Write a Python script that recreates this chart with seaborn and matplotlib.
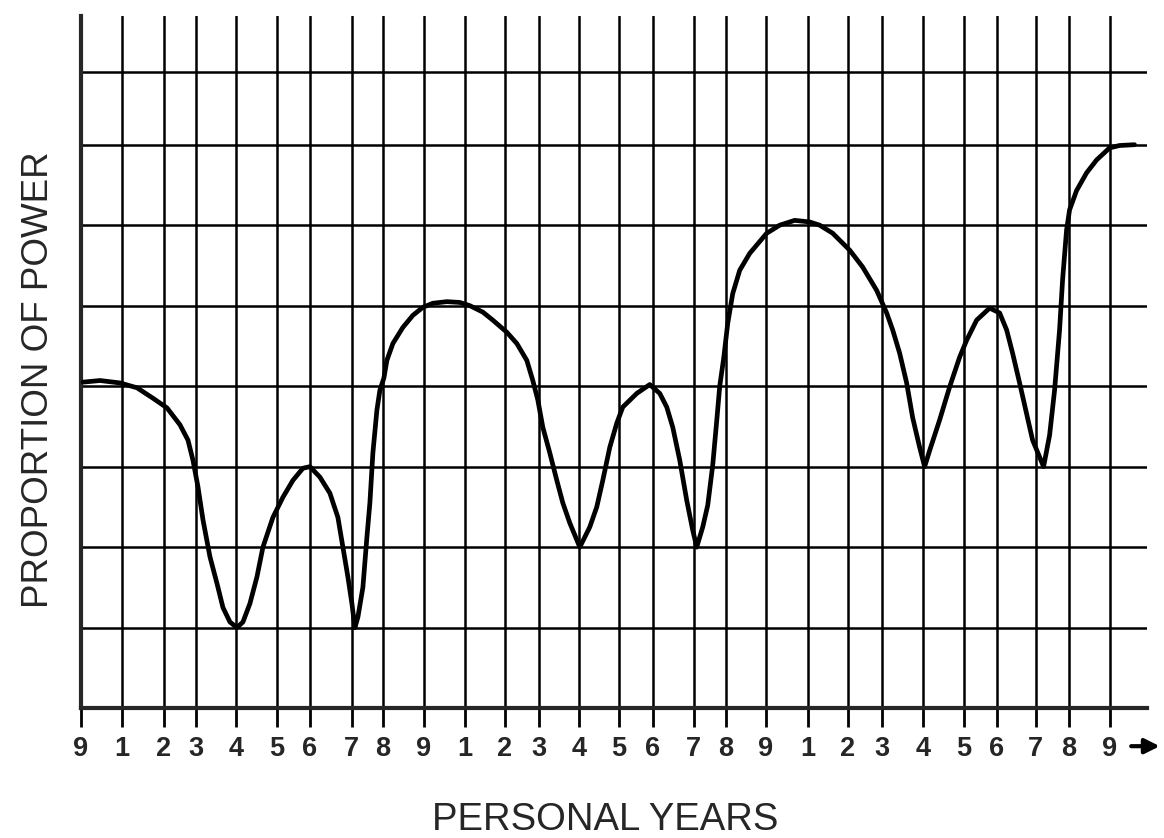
"""
Personal years vs proportion of power -- line chart over a hand-drawn style grid
"""

import numpy as np
import matplotlib
matplotlib.use('Agg')
import matplotlib.pyplot as plt
import seaborn as sns
import pandas as pd

sns.set_style("white")
plt.rcParams['font.family'] = ['Liberation Sans', 'DejaVu Sans']

# ============================================================
# data
# ============================================================
# year labels along the bottom, and where each one sits (uneven spacing as in the original)
year_labels = ['9', '1', '2', '3', '4', '5', '6', '7', '8',
               '9', '1', '2', '3', '4', '5', '6', '7', '8',
               '9', '1', '2', '3', '4', '5', '6', '7', '8', '9']
year_pos = [0.0, 4.1, 8.3, 11.5, 15.5, 19.6, 22.9, 27.1, 30.2,
            34.3, 38.4, 42.4, 45.8, 49.8, 53.8, 57.2, 61.3, 64.5,
            68.5, 72.7, 76.7, 80.1, 84.2, 88.3, 91.6, 95.5, 98.8, 102.9]

# horizontal rule levels (no labels in the original)
power_levels = [1, 2, 3, 4, 5, 6, 7, 7.9]

# the traced curve
curve_x = [0.2, 1.9, 3.9, 5.6, 7.2, 8.6, 9.9, 10.7, 11.2, 11.7, 12.2, 12.9,
           13.6, 14.2, 14.9, 15.6, 16.2, 16.9, 17.6, 18.2, 19.2, 20.2, 21.2,
           22.2, 22.9, 23.9, 24.9, 25.7, 26.2, 26.7, 27.1, 27.4, 27.7, 28.2,
           28.6, 28.9, 29.2, 29.6, 29.9,
           30.3, 30.6, 31.2, 32.2, 33.2, 34.2, 35.2, 36.6, 37.9, 38.9, 40.2,
           41.2, 42.6, 43.6, 44.6, 45.2, 45.7, 46.2, 46.9, 47.6, 48.2, 48.9,
           49.9, 50.9, 51.6, 52.2, 52.9, 53.6, 54.2, 55.6, 56.9, 57.9, 58.6,
           59.2, 59.9, 60.6, 61.2, 61.6, 62.2, 62.7, 63.2, 63.6, 63.9, 64.3,
           64.7, 65.2, 65.9, 66.9, 68.6, 69.9, 71.4, 72.9, 73.9, 75.2, 76.9,
           78.2, 79.6, 80.6, 81.2, 81.9, 82.6, 83.2, 83.9, 84.4, 84.9, 85.9,
           86.9, 87.9, 88.6, 89.6, 90.9, 91.9, 92.6, 93.2, 93.9, 94.6, 95.2,
           95.9, 96.3, 96.9, 97.4, 97.9, 98.2, 98.6, 98.9, 99.6, 100.6, 101.6,
           102.9, 103.9, 105.4]
curve_y = [4.05, 4.07, 4.04, 3.98, 3.85, 3.73, 3.52, 3.33, 3.08, 2.75, 2.34, 1.88,
           1.55, 1.25, 1.07, 1.0, 1.07, 1.30, 1.63, 2.0, 2.37, 2.62, 2.83,
           2.98, 3.0, 2.87, 2.67, 2.37, 2.0, 1.63, 1.30, 1.0, 1.13, 1.50,
           2.12, 2.55, 3.17, 3.70, 3.95,
           4.10, 4.32, 4.53, 4.73, 4.88, 4.98, 5.03, 5.05, 5.04, 5.0, 4.92,
           4.82, 4.67, 4.53, 4.32, 4.07, 3.83, 3.49, 3.17, 2.83, 2.55, 2.30,
           2.0, 2.25, 2.50, 2.83, 3.24, 3.54, 3.74, 3.91, 4.02, 3.91, 3.74,
           3.49, 3.08, 2.58, 2.21, 2.0, 2.25, 2.52, 3.02, 3.57, 4.0, 4.35,
           4.78, 5.15, 5.44, 5.65, 5.90, 6.0, 6.06, 6.04, 6.0, 5.90, 5.69,
           5.48, 5.19, 4.91, 4.70, 4.41, 4.04, 3.61, 3.24, 3.0, 3.20, 3.58,
           3.99, 4.36, 4.57, 4.82, 4.97, 4.91, 4.70, 4.41, 4.04, 3.66, 3.33,
           3.12, 3.0, 3.39, 3.95, 4.70, 5.32, 5.94, 6.19, 6.43, 6.65, 6.81,
           6.96, 6.99, 7.0]

df = pd.DataFrame({'year': curve_x, 'power': curve_y})

# ============================================================
# plot
# ============================================================
fig = plt.figure(figsize=(11.64, 8.38), dpi=100)
ax = fig.add_axes([0.0696, 0.155, 0.9154, 0.826])

sns.lineplot(data=df, x='year', y='power', sort=False, estimator=None,
             color='black', linewidth=3.4, ax=ax, zorder=5,
             solid_joinstyle='round', solid_capstyle='round')

ax.set_xlim(0, 106.6)
ax.set_ylim(0, 8.6)

ax.set_xticks(year_pos)
ax.set_xticklabels(year_labels, fontsize=19.5, fontweight='bold')
ax.set_yticks(power_levels)
ax.set_yticklabels([])
ax.tick_params(axis='y', length=0, left=False)
ax.tick_params(axis='x', length=0, pad=20)

# year ticks hanging below the axis line
ax.vlines(year_pos, -0.24, 0, colors='black', linewidth=2, clip_on=False)

ax.grid(True, color='black', linewidth=1.8)
ax.set_axisbelow(True)

for side in ['top', 'right']:
    ax.spines[side].set_visible(False)
ax.spines['left'].set_linewidth(3)
ax.spines['bottom'].set_linewidth(3)

ax.set_xlabel('PERSONAL YEARS', fontsize=27.5)
ax.xaxis.set_label_coords(0.492, -0.162)
ax.xaxis.label.set_va('center')
ax.set_ylabel('PROPORTION OF POWER', fontsize=26.5)
ax.yaxis.set_label_coords(-0.040, 0.474)
ax.yaxis.label.set_va('center')

# arrow after the last year label
ax.annotate('', xy=(1.015, -0.055), xytext=(0.983, -0.055),
            xycoords='axes fraction', textcoords='axes fraction',
            arrowprops=dict(arrowstyle='-|>', color='black', lw=3,
                            mutation_scale=22), annotation_clip=False)

plt.savefig('out.png', dpi=100)
plt.close()
